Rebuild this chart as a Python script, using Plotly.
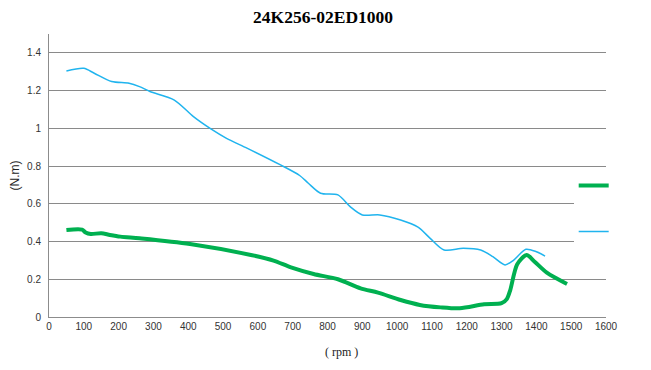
import plotly.graph_objects as go

title_text = "24K256-02ED1000"
x_title = "( rpm )"
y_title = "(N.m)"

blue_rpm = [50, 100, 130, 180, 230, 260, 290, 360, 415, 465, 510, 570, 665, 720, 745, 780, 830,
            865, 900, 950, 1010, 1060, 1095, 1135, 1190, 1240, 1275, 1310, 1335, 1370, 1400, 1425]
blue_val = [1.304, 1.318, 1.292, 1.248, 1.239, 1.221, 1.195, 1.15, 1.062, 0.997, 0.947, 0.894,
            0.806, 0.75, 0.709, 0.656, 0.647, 0.585, 0.541, 0.541, 0.514, 0.476, 0.417, 0.355,
            0.364, 0.355, 0.32, 0.276, 0.302, 0.359, 0.346, 0.323]

green_rpm = [50, 95, 105, 120, 150, 175, 205, 260, 405, 580, 645, 695, 760, 830, 895, 945, 1010,
             1065, 1125, 1180, 1250, 1300, 1315, 1325, 1345, 1372, 1395, 1430, 1488]
green_val = [0.461, 0.463, 0.448, 0.44, 0.444, 0.435, 0.426, 0.417, 0.387, 0.329, 0.299, 0.263,
             0.228, 0.2, 0.152, 0.129, 0.09, 0.064, 0.051, 0.046, 0.067, 0.073, 0.095, 0.143,
             0.28, 0.329, 0.293, 0.235, 0.175]

x_ticks = list(range(0, 1601, 100))
y_ticks = [0, 0.2, 0.4, 0.6, 0.8, 1, 1.2, 1.4]
y_ticklabels = ["0", "0.2", "0.4", "0.6", "0.8", "1", "1.2", "1.4"]

fig = go.Figure()
fig.add_trace(go.Scatter(x=green_rpm, y=green_val, mode="lines", name=" ",
                         line=dict(color="#00b050", width=4, shape="spline", smoothing=0.8),
                         legendgroup="g"))
fig.add_trace(go.Scatter(x=blue_rpm, y=blue_val, mode="lines", name=" ",
                         line=dict(color="#20b4ee", width=1.5, shape="spline", smoothing=0.8),
                         legendgroup="b"))

fig.add_annotation(text=x_title, xref="paper", yref="paper", x=0.526, y=-0.124,
                   xanchor="center", yanchor="middle", showarrow=False,
                   font=dict(family="Liberation Serif", size=12, color="#222222"))

fig.update_layout(
    width=643, height=362,
    margin=dict(l=41, r=45, t=26, b=53),
    paper_bgcolor="white", plot_bgcolor="white",
    title=dict(text=title_text, x=0.492, xref="paper", y=0.975, yref="container", yanchor="middle",
               font=dict(family="Liberation Serif", size=17.5, color="#000000", weight="bold")),
    showlegend=True,
    legend=dict(x=0.942, xanchor="left", y=0.516, yanchor="top", bgcolor="white",
                traceorder="grouped", tracegroupgap=27, font=dict(size=12),
                itemwidth=30),
    xaxis=dict(range=[0, 1600], tickvals=x_ticks, ticks="", showgrid=False, automargin=False,
               showline=True, linecolor="#8c8c8c", linewidth=1, zeroline=False,
               tickfont=dict(family="Liberation Sans", size=10, color="#333333")),
    yaxis=dict(range=[0, 1.5], tickvals=y_ticks, ticktext=y_ticklabels, ticks="",
               showgrid=True, gridcolor="#8a8a8a", gridwidth=1, automargin=False,
               showline=True, linecolor="#8c8c8c", linewidth=1, zeroline=False,
               ticklabelstandoff=5,
               tickfont=dict(family="Liberation Sans", size=10, color="#333333"),
               title=dict(text=y_title, font=dict(family="Liberation Sans", size=12, color="#222222"),
                          standoff=8)),
)

fig.write_html("out.html")
